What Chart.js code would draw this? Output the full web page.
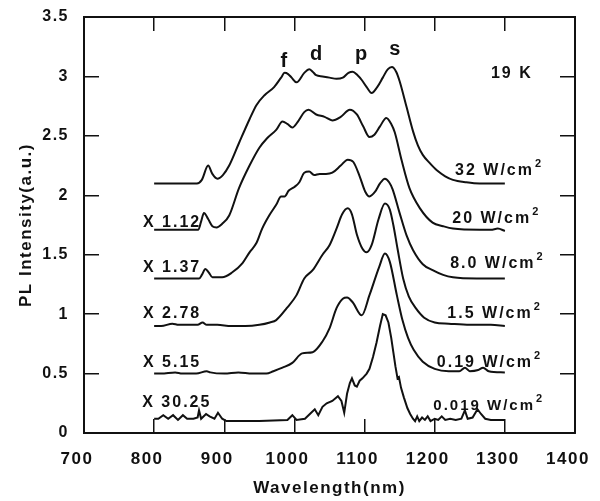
<!DOCTYPE html>
<html>
<head>
<meta charset="utf-8">
<title>PL spectra 19 K</title>
<script src="https://cdn.jsdelivr.net/npm/chart.js@4.4.1/dist/chart.umd.min.js"></script>
<style>
  html, body { margin: 0; padding: 0; background: #fff; }
  #wrap { width: 600px; height: 501px; position: relative; }
</style>
</head>
<body>
<div id="wrap"><canvas id="pl-chart"></canvas></div>
<script>
    "use strict";

    // Axis ticks
    const xTickValues = [700, 800, 900, 1000, 1100, 1200, 1300, 1400];
    const xTickLabels = ['700', '800', '900', '1000', '1100', '1200', '1300', '1400'];
    const yTickLabels = ['0', '0.5', '1', '1.5', '2', '2.5', '3', '3.5'];

    // 32 W/cm2
    const wl32 = [800, 861, 868, 877, 883, 890, 898, 907, 921, 936, 946, 957, 971, 981, 986, 991, 996, 1003,
        1014, 1021, 1026, 1031, 1040, 1050, 1060, 1069, 1077, 1083, 1090, 1096, 1103, 1110, 1118, 1126,
        1133, 1139, 1145, 1150, 1160, 1169, 1176, 1183, 1193, 1203, 1215, 1226, 1245, 1264, 1300];
    const pl32 = [2.10, 2.10, 2.13, 2.25, 2.18, 2.14, 2.17, 2.25, 2.44, 2.64, 2.76, 2.84, 2.91, 2.99, 3.03, 3.02, 2.99, 2.95,
        3.03, 3.06, 3.04, 3.01, 3.00, 2.99, 2.98, 2.99, 3.03, 3.04, 3.01, 2.97, 2.91, 2.86, 2.91, 2.99,
        3.06, 3.08, 3.04, 2.96, 2.74, 2.54, 2.42, 2.34, 2.27, 2.21, 2.16, 2.13, 2.11, 2.10, 2.10];

    // 20 W/cm2 (x 1.12)
    const wl20 = [800, 863, 867, 871, 877, 883, 889, 897, 907, 921, 936, 950, 961, 974, 983, 990, 997, 1005,
        1014, 1020, 1031, 1043, 1054, 1066, 1079, 1089, 1098, 1107, 1114, 1122, 1131, 1138, 1143, 1153,
        1164, 1179, 1197, 1212, 1226, 1264, 1280, 1290, 1300];
    const pl20 = [1.71, 1.71, 1.78, 1.85, 1.80, 1.74, 1.73, 1.76, 1.83, 2.06, 2.25, 2.40, 2.48, 2.55, 2.62, 2.60, 2.57, 2.62,
        2.70, 2.72, 2.68, 2.66, 2.63, 2.66, 2.72, 2.68, 2.58, 2.49, 2.51, 2.58, 2.65, 2.60, 2.53, 2.29,
        2.06, 1.89, 1.77, 1.74, 1.72, 1.71, 1.71, 1.72, 1.70];

    // 8.0 W/cm2 (x 1.37)
    const wl8 = [800, 864, 868, 873, 878, 883, 897, 911, 926, 936, 946, 954, 964, 974, 981, 986, 992, 1000,
        1007, 1014, 1021, 1028, 1036, 1045, 1054, 1066, 1076, 1084, 1093, 1101, 1107, 1115, 1122, 1129,
        1135, 1140, 1150, 1160, 1169, 1183, 1197, 1212, 1226, 1260, 1300];
    const pl8 = [1.30, 1.30, 1.33, 1.38, 1.35, 1.31, 1.31, 1.35, 1.43, 1.52, 1.60, 1.72, 1.83, 1.92, 1.99, 1.99, 2.04, 2.07,
        2.11, 2.19, 2.20, 2.17, 2.18, 2.18, 2.19, 2.25, 2.30, 2.28, 2.16, 2.03, 1.99, 2.03, 2.10, 2.14,
        2.11, 2.05, 1.85, 1.66, 1.54, 1.42, 1.37, 1.33, 1.31, 1.30, 1.30];

    // 1.5 W/cm2 (x 2.78)
    const wl15 = [800, 810, 826, 835, 850, 862, 869, 875, 890, 910, 930, 950, 965, 974, 989, 1003, 1014, 1026,
        1040, 1050, 1060, 1068, 1076, 1082, 1089, 1097, 1103, 1110, 1120, 1129, 1136, 1141, 1147, 1155,
        1163, 1173, 1185, 1200, 1220, 1250, 1280, 1300];
    const pl15 = [0.90, 0.90, 0.92, 0.91, 0.91, 0.91, 0.93, 0.91, 0.91, 0.90, 0.90, 0.91, 0.93, 0.95, 1.05, 1.16, 1.30, 1.37,
        1.50, 1.58, 1.72, 1.84, 1.89, 1.84, 1.67, 1.55, 1.52, 1.58, 1.80, 1.93, 1.88, 1.75, 1.55, 1.30,
        1.15, 1.05, 0.97, 0.93, 0.92, 0.91, 0.91, 0.90];

    // 0.19 W/cm2 (x 5.15)
    const wl019 = [800, 810, 830, 840, 860, 875, 880, 900, 920, 940, 960, 970, 983, 997, 1011, 1026, 1040, 1050,
        1060, 1069, 1075, 1083, 1096, 1107, 1121, 1129, 1136, 1146, 1154, 1162, 1170, 1183, 1200, 1220,
        1235, 1243, 1250, 1262, 1269, 1277, 1300];
    const pl019 = [0.50, 0.50, 0.51, 0.50, 0.50, 0.52, 0.51, 0.50, 0.51, 0.50, 0.50, 0.52, 0.55, 0.59, 0.67, 0.68, 0.77, 0.88,
        1.05, 1.13, 1.14, 1.10, 0.99, 1.16, 1.40, 1.51, 1.44, 1.16, 0.95, 0.80, 0.70, 0.60, 0.54, 0.52,
        0.52, 0.55, 0.52, 0.53, 0.55, 0.52, 0.51];

    // 0.019 W/cm2 (x 30.25)
    const wl0019 = [800, 806, 813, 820, 827, 834, 841, 847, 856, 862, 864, 867, 874, 879, 886, 891, 897, 903,
        950, 990, 997, 1003, 1015, 1022, 1029, 1034, 1040, 1046, 1054, 1062, 1067, 1071, 1075, 1079,
        1082, 1086, 1089, 1093, 1097, 1103, 1107, 1112, 1117, 1122, 1126, 1130, 1134, 1138, 1141, 1144,
        1147, 1149, 1152, 1156, 1161, 1165, 1169, 1172, 1175, 1178, 1182, 1186, 1190, 1194, 1200, 1205,
        1210, 1215, 1222, 1230, 1238, 1243, 1247, 1254, 1261, 1266, 1272, 1280, 1300];
    const pl0019 = [0.12, 0.12, 0.15, 0.12, 0.15, 0.11, 0.15, 0.12, 0.12, 0.13, 0.19, 0.12, 0.16, 0.14, 0.12, 0.17, 0.12, 0.10,
        0.10, 0.11, 0.15, 0.11, 0.12, 0.16, 0.20, 0.15, 0.22, 0.25, 0.27, 0.31, 0.27, 0.17, 0.33, 0.42,
        0.46, 0.40, 0.39, 0.44, 0.46, 0.50, 0.54, 0.64, 0.76, 0.90, 1.00, 0.99, 0.93, 0.80, 0.68, 0.56,
        0.46, 0.47, 0.38, 0.30, 0.21, 0.16, 0.12, 0.10, 0.14, 0.10, 0.13, 0.11, 0.14, 0.10, 0.12, 0.11,
        0.14, 0.11, 0.12, 0.11, 0.12, 0.19, 0.12, 0.13, 0.20, 0.16, 0.12, 0.11, 0.11];

    const powerLabels = ['32 W/cm', '20 W/cm', '8.0 W/cm', '1.5 W/cm', '0.19 W/cm', '0.019 W/cm'];
    const factorLabels = ['', 'X 1.12', 'X 1.37', 'X 2.78', 'X 5.15', 'X 30.25'];
    const peakLabels = ['f', 'd', 'p', 's'];
    const tempLabel = '19 K';

    const FONT = "'Liberation Sans', Arial, sans-serif";
    const INK = '#111';

    function toPoints(xs, ys) {
        return xs.map(function (x, i) {
            return {x: x, y: ys[i]};
        });
    }

    function curve(label, xs, ys, smooth) {
        return {
            label: label,
            data: toPoints(xs, ys),
            borderColor: INK,
            borderWidth: 2,
            pointRadius: 0,
            fill: false,
            tension: smooth ? 0.4 : 0,
            cubicInterpolationMode: smooth ? 'monotone' : 'default'
        };
    }

    // Where the texts sit, in axis units: [wavelength, intensity]
    const peakAt = [[985, 3.08], [1031, 3.14], [1095, 3.14], [1143, 3.18]];
    const tempAt = [1310, 2.99];
    const powerAt = [[1229, 2.17], [1225, 1.77], [1222, 1.39], [1218, 0.97], [1203, 0.555], [1198, 0.19]];
    const factorAt = [null, [784, 1.73], [784, 1.355], [784, 0.97], [784, 0.555], [783, 0.22]];

    // letter spacing of the scanned figure
    const spacing = {
        id: 'spacing',
        beforeLayout: function (chart) { chart.ctx.letterSpacing = '1.5px'; },
        beforeDraw: function (chart) { chart.ctx.letterSpacing = '1.5px'; }
    };

    const annotations = {
        id: 'annotations',
        afterDraw: function (chart) {
            const ctx = chart.ctx;
            const xs = chart.scales.x;
            const ys = chart.scales.y;
            const px = function (p) { return [xs.getPixelForValue(p[0]), ys.getPixelForValue(p[1])]; };
            ctx.save();
            ctx.fillStyle = INK;
            ctx.textBaseline = 'alphabetic';

            // peak letters
            ctx.letterSpacing = '0px';
            ctx.textAlign = 'center';
            ctx.font = 'bold 20px ' + FONT;
            peakLabels.forEach(function (t, i) {
                const p = px(peakAt[i]);
                ctx.fillText(t, p[0], p[1]);
            });

            ctx.letterSpacing = '2px';
            ctx.font = 'bold 16px ' + FONT;
            const tp = px(tempAt);
            ctx.fillText(tempLabel, tp[0], tp[1]);

            // power densities with superscript 2
            ctx.textAlign = 'left';
            powerLabels.forEach(function (t, i) {
                const p = px(powerAt[i]);
                const size = i === 5 ? 15 : 16;
                ctx.letterSpacing = '2px';
                ctx.font = 'bold ' + size + 'px ' + FONT;
                ctx.fillText(t, p[0], p[1]);
                const w = ctx.measureText(t).width;
                ctx.letterSpacing = '0px';
                ctx.font = 'bold 11px ' + FONT;
                ctx.fillText('2', p[0] + w + 1, p[1] - 8);
            });

            // scale factors
            ctx.letterSpacing = '2px';
            ctx.font = 'bold 16px ' + FONT;
            factorLabels.forEach(function (t, i) {
                if (!t) return;
                const p = px(factorAt[i]);
                ctx.fillText(t, p[0], p[1]);
            });
            ctx.restore();
        }
    };

    const tickFont = function (size) {
        return {family: FONT, size: size, weight: 'bold'};
    };

    const frameGrid = function (len) {
        return {drawOnChartArea: false, drawTicks: true, tickLength: len, color: INK, lineWidth: 1.5};
    };
    const frameBorder = {display: true, color: INK, width: 2};

    // fixed box sizes, no extra room for label overflow
    function fixBox(size) {
        return function (s) {
            if (s.isHorizontal()) {
                s.height = size;
            } else {
                s.width = size;
            }
            s.paddingTop = 0;
            s.paddingBottom = 0;
            s.paddingLeft = 0;
            s.paddingRight = 0;
        };
    }

    const chart = new Chart(document.getElementById('pl-chart'), {
        type: 'line',
        data: {
            datasets: [
                curve('32 W/cm²', wl32, pl32, true),
                curve('20 W/cm² (X 1.12)', wl20, pl20, true),
                curve('8.0 W/cm² (X 1.37)', wl8, pl8, true),
                curve('1.5 W/cm² (X 2.78)', wl15, pl15, true),
                curve('0.19 W/cm² (X 5.15)', wl019, pl019, true),
                curve('0.019 W/cm² (X 30.25)', wl0019, pl0019, false)
            ]
        },
        options: {
            responsive: true,
            maintainAspectRatio: false,
            animation: false,
            layout: {padding: 0},
            plugins: {
                legend: {display: false},
                tooltip: {enabled: false}
            },
            scales: {
                x: {
                    type: 'linear',
                    position: 'bottom',
                    min: 700,
                    max: 1400,
                    ticks: {
                        stepSize: 100,
                        padding: 30,
                        labelOffset: -7,
                        color: INK,
                        font: tickFont(17),
                        callback: function (v) {
                            const i = xTickValues.indexOf(v);
                            return i >= 0 ? xTickLabels[i] : '';
                        }
                    },
                    grid: frameGrid(-14),
                    border: frameBorder,
                    title: {
                        display: true,
                        text: 'Wavelength(nm)',
                        color: INK,
                        font: tickFont(17),
                        padding: {top: 0, bottom: 2}
                    },
                    afterFit: fixBox(68)
                },
                x2: {
                    type: 'linear',
                    position: 'top',
                    min: 700,
                    max: 1400,
                    ticks: {stepSize: 100, display: false},
                    grid: frameGrid(-14),
                    border: frameBorder,
                    afterFit: fixBox(17)
                },
                y: {
                    type: 'linear',
                    position: 'left',
                    min: 0,
                    max: 3.5,
                    ticks: {
                        stepSize: 0.5,
                        padding: 30,
                        color: INK,
                        font: tickFont(16),
                        callback: function (v) {
                            return yTickLabels[Math.round(v * 2)] || '';
                        }
                    },
                    grid: frameGrid(-15),
                    border: frameBorder,
                    title: {
                        display: true,
                        text: 'PL Intensity(a.u.)',
                        color: INK,
                        font: tickFont(17),
                        padding: {top: 16, bottom: 0}
                    },
                    afterFit: fixBox(84)
                },
                y2: {
                    type: 'linear',
                    position: 'right',
                    min: 0,
                    max: 3.5,
                    ticks: {stepSize: 0.5, display: false},
                    grid: frameGrid(-15),
                    border: frameBorder,
                    afterFit: fixBox(25)
                }
            }
        },
        plugins: [spacing, annotations]
    });
</script>
</body>
</html>
